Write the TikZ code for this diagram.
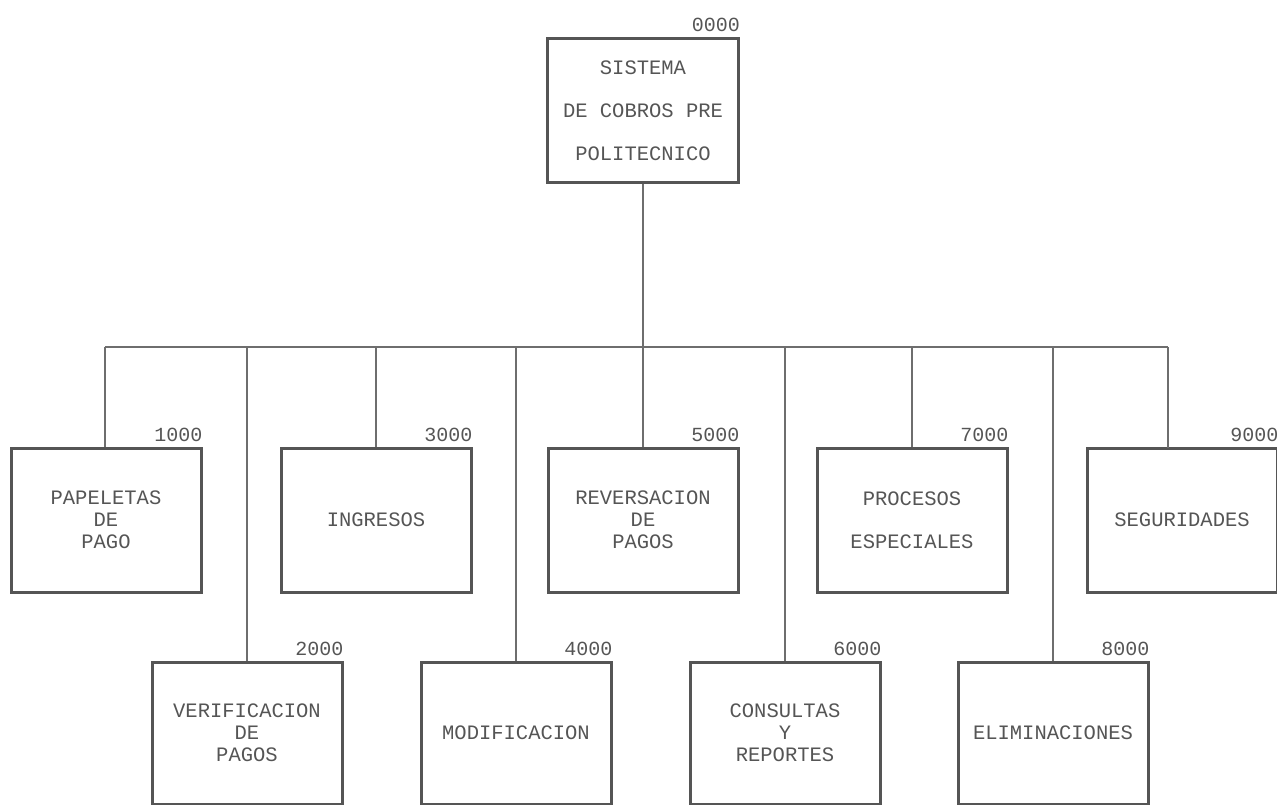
\documentclass[tikz,border=0pt]{standalone}
\usepackage{fontspec}
\newfontfamily\plotfont{Liberation Mono}
\definecolor{ink}{HTML}{555555}
\definecolor{wirec}{HTML}{6E6E6E}
\begin{document}
\begin{tikzpicture}[x=1pt,y=-1pt,
  box/.style={draw=ink, line width=3pt, minimum width=190pt, minimum height=144pt,
    inner sep=0pt, align=center, text=ink, font=\plotfont\fontsize{20.5}{22}\selectfont},
  wide/.style={font=\plotfont\fontsize{20.5}{43}\selectfont},
  num/.style={anchor=south east, inner sep=0pt, text=ink, font=\plotfont\fontsize{20}{22}\selectfont},
  wire/.style={draw=wirec, line width=1.3pt}]
\useasboundingbox (0,0) rectangle (1277,805);
% root
\node[box, wide, minimum width=191pt] (root) at (643,111) {SISTEMA\\DE COBROS PRE\\POLITECNICO};
\node[num] (n0) at ([yshift=6pt]root.north east) {0000};
% top row
\node[box] (b1) at (106,520) {PAPELETAS\\DE\\PAGO};
\node[box] (b3) at (376,520) {INGRESOS};
\node[box] (b5) at (643,520) {REVERSACION\\DE\\PAGOS};
\node[box, wide] (b7) at (912,520) {PROCESOS\\ESPECIALES};
\node[box] (b9) at (1182,520) {SEGURIDADES};
% bottom row
\node[box, minimum height=142pt] (b2) at (247,733) {VERIFICACION\\DE\\PAGOS};
\node[box, minimum height=142pt] (b4) at (516,733) {MODIFICACION};
\node[box, minimum height=142pt] (b6) at (785,733) {CONSULTAS\\Y\\REPORTES};
\node[box, minimum height=142pt] (b8) at (1053,733) {ELIMINACIONES};
% numbers
\foreach \b/\t in {b1/1000,b2/2000,b3/3000,b4/4000,b5/5000,b6/6000,b7/7000,b8/8000,b9/9000}
  \node[num] (n\t) at ([yshift=5pt]\b.north east) {\t};
% bus
\coordinate (busL) at (105,347);
\coordinate (busR) at (1168,347);
\coordinate (c9) at (1168,448);
\draw[wire] (root.south) -- (root.south |- busL);
\draw[wire] (busL) -- (busR);
\draw[wire] (busL) -- (busL |- b1.north);
\foreach \b in {b2,b3,b4,b5,b6,b7,b8}
  \draw[wire] (\b.north) -- (\b.north |- busL);
\draw[wire] (busR) -- (c9);
\end{tikzpicture}
\end{document}
